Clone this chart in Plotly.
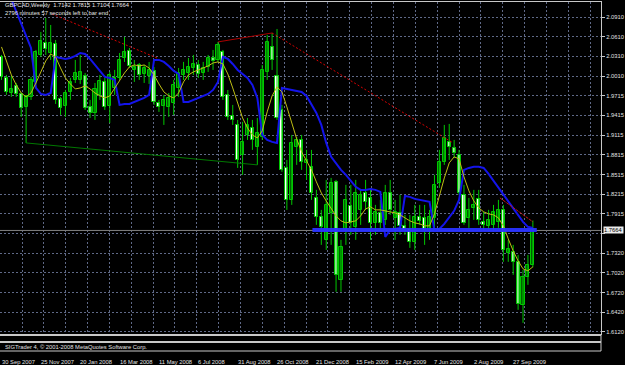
import plotly.graph_objects as go

# ---------------- data (weekly GBPCAD, bar index 0 = week of 30 Sep 2007) ----------------
opens = [2.0303,1.9983,1.9755,1.9862,1.9740,1.9543,1.9695,1.9923,2.0333,2.0515,
         2.0363,2.0500,1.9664,1.9558,1.9771,1.9953,1.9953,2.0014,1.9543,1.9451,
         1.9725,1.9923,1.9558,1.9831,1.9983,2.0287,2.0394,2.0105,2.0181,2.0044,
         2.0014,2.0090,1.9603,1.9558,1.9543,1.9603,1.9831,2.0029,2.0059,2.0135,
         2.0181,2.0059,2.0151,2.0287,2.0257,2.0379,1.9725,1.9406,1.9269,1.8813,
         1.9117,1.9223,1.8935,1.9087,2.0075,2.0455,2.0014,1.9497,1.8615,1.8129,
         1.8935,1.9041,1.8693,1.8631,1.8159,1.7871,1.7521,1.7931,1.8403,1.6913,
         1.7673,1.8038,1.7719,1.7977,1.8235,1.8159,1.7779,1.7931,1.7825,1.8235,
         1.7855,1.7931,1.7734,1.7688,1.7491,1.7871,1.7855,1.7642,1.7855,1.8387,
         1.8707,1.9011,1.8919,1.8813,1.8205,1.7855,1.8007,1.8144,1.7795,1.7734,
         1.7749,1.7795,1.7977,1.7323,1.7339,1.7187,1.6533,1.6959,1.7142]
highs = [2.0333,2.0029,2.0014,1.9907,1.9755,1.9710,1.9999,2.0409,2.0683,2.0895,
         2.0789,2.0561,1.9695,1.9801,1.9983,2.0257,2.0333,2.0059,1.9649,1.9907,
         2.0029,1.9983,2.0075,2.0105,2.0363,2.0607,2.0439,2.0257,2.0211,2.0181,
         2.0227,2.0151,1.9649,1.9725,1.9755,1.9953,2.0135,2.0227,2.0287,2.0333,
         2.0257,2.0227,2.0333,2.0409,2.0531,2.0409,1.9801,1.9573,1.9345,1.9315,
         1.9375,1.9345,1.9375,2.0181,2.0637,2.0667,2.0728,1.9573,1.8737,1.9117,
         1.9087,1.9117,1.8889,1.8889,1.8281,1.7977,1.8433,1.8463,1.8433,1.7521,
         1.8357,1.8357,1.8433,1.8281,1.8433,1.8281,1.8053,1.8129,1.8357,1.8433,
         1.8129,1.8205,1.7901,1.7901,1.8053,1.8053,1.8053,1.7977,1.8509,1.8889,
         1.9269,1.9284,1.9041,1.8889,1.8357,1.8159,1.8281,1.8281,1.7947,1.7977,
         1.8053,1.8129,1.8053,1.7521,1.7445,1.7293,1.7065,1.7293,1.7815]
lows = [1.9953,1.9725,1.9695,1.9695,1.9391,1.8995,1.9649,1.9892,2.0303,2.0333,
        2.0257,1.9588,1.9421,1.9391,1.9649,1.9907,1.9892,1.9497,1.9375,1.9345,
        1.9649,1.9497,1.9299,1.9725,1.9953,2.0227,2.0135,1.9923,1.9953,1.9907,
        1.9892,1.9573,1.9467,1.9269,1.9391,1.9421,1.9695,1.9953,1.9953,2.0029,
        1.9983,1.9953,2.0075,2.0105,2.0227,1.9649,1.9345,1.9269,1.8615,1.8509,
        1.9041,1.8889,1.8661,1.9041,1.9953,2.0105,1.9345,1.8555,1.7977,1.8053,
        1.8661,1.8585,1.8433,1.8129,1.7749,1.7445,1.7369,1.7445,1.6731,1.6731,
        1.7445,1.7597,1.7521,1.7749,1.7977,1.7521,1.7597,1.7673,1.7749,1.7901,
        1.7521,1.7597,1.7597,1.7399,1.7369,1.7749,1.7445,1.7521,1.7642,1.8311,
        1.8661,1.8737,1.8767,1.8205,1.7749,1.7703,1.7825,1.7749,1.7673,1.7642,
        1.7642,1.7703,1.7187,1.7187,1.6989,1.6457,1.6259,1.6837,1.7104]
closes = [1.9999,1.9771,1.9816,1.9740,1.9527,1.9710,1.9953,2.0379,2.0546,2.0424,
          2.0515,1.9649,1.9527,1.9755,1.9923,2.0059,2.0075,1.9527,1.9451,1.9816,
          1.9938,1.9543,2.0029,1.9983,2.0257,2.0379,2.0166,2.0151,2.0029,2.0135,
          2.0105,1.9619,1.9543,1.9649,1.9679,1.9877,2.0059,2.0105,2.0151,2.0196,
          2.0044,2.0135,2.0287,2.0242,2.0485,1.9695,1.9391,1.9345,1.8737,1.9011,
          1.9269,1.9041,1.9147,2.0105,2.0531,2.0257,1.9375,1.8585,1.8129,1.8995,
          1.9041,1.8707,1.8737,1.8235,1.7871,1.7719,1.8053,1.8387,1.6989,1.7415,
          1.8129,1.7779,1.8235,1.8205,1.8099,1.7779,1.7947,1.7779,1.8235,1.7977,
          1.7947,1.7734,1.7673,1.7491,1.7871,1.7810,1.7642,1.7871,1.8357,1.8707,
          1.9071,1.8935,1.8843,1.8235,1.7779,1.7977,1.8053,1.7825,1.7749,1.7825,
          1.7947,1.7977,1.7369,1.7384,1.7187,1.6549,1.6959,1.7141,1.7664]

# yellow moving-average line, one value per bar
ma_values = [2.0455,2.0227,2.0029,1.9877,1.9755,1.9695,1.9755,1.9907,2.0075,2.0242,
             2.0348,2.0303,2.0135,1.9983,1.9892,1.9816,1.9831,1.9862,1.9816,1.9755,
             1.9710,1.9679,1.9710,1.9831,1.9953,2.0059,2.0151,2.0181,2.0166,2.0181,
             2.0135,2.0029,1.9892,1.9771,1.9710,1.9679,1.9755,1.9923,2.0029,2.0075,
             2.0105,2.0135,2.0166,2.0211,2.0227,2.0196,2.0044,1.9831,1.9588,1.9375,
             1.9223,1.9117,1.9071,1.9178,1.9467,1.9710,1.9847,1.9771,1.9543,1.9284,
             1.9056,1.8859,1.8722,1.8585,1.8403,1.8235,1.8113,1.7992,1.7886,1.7810,
             1.7779,1.7795,1.7810,1.7886,1.7992,1.8023,1.7977,1.7977,1.7962,1.7947,
             1.7931,1.7901,1.7855,1.7810,1.7779,1.7764,1.7734,1.7734,1.7916,1.8190,
             1.8463,1.8691,1.8783,1.8753,1.8479,1.8266,1.8113,1.8007,1.7947,1.7916,
             1.7901,1.7855,1.7734,1.7537,1.7354,1.7202,1.7081,1.7050,1.7111]

# blue stepped band line, one value per bar
band_values = [2.1549,2.1367,2.1184,2.1002,2.0804,2.0622,2.0439,1.9831,1.9740,1.9725,
               1.9755,2.0303,2.0287,2.0272,2.0287,2.0318,2.0363,2.0348,2.0272,2.0181,
               2.0075,1.9999,1.9983,1.9953,1.9573,1.9588,1.9588,1.9619,1.9649,1.9679,
               1.9725,2.0257,2.0257,2.0227,2.0166,2.0090,2.0044,1.9619,1.9619,1.9649,
               1.9679,1.9710,1.9740,1.9801,1.9923,2.0303,2.0272,2.0196,2.0105,2.0044,
               1.9983,1.9877,1.9679,1.9117,1.9041,1.9011,1.8995,1.9831,1.9816,1.9801,
               1.9786,1.9771,1.9710,1.9588,1.9451,1.9269,1.8995,1.8783,1.8677,1.8585,
               1.8509,1.8418,1.8327,1.8281,1.8281,1.8296,1.8281,1.8251,1.7567,1.7673,
               1.7688,1.7703,1.8189,1.8175,1.8144,1.8129,1.8114,1.8099,1.7657,1.7688,
               1.7764,1.7855,1.7962,1.8129,1.8585,1.8615,1.8631,1.8631,1.8615,1.8524,
               1.8418,1.8311,1.8220,1.8114,1.8007,1.7886,1.7795,1.7719,1.7703]

# hand-drawn objects: (bar, price) endpoints
red_dot1 = [(10.26, 2.0956), (31.6, 2.0287)]
red_solid = [(44.0, 2.0531), (55.0, 2.0667)]
red_dot2 = [(55.0, 2.0667), (91.8, 1.8995)]
red_dot3 = [(101.3, 1.8159), (108.0, 1.7795)]
green_line = [(5.0, 1.8995), (52.0, 1.8661)]
blue_level = [(63.2, 1.7670), (108.8, 1.7670)]
bid_price = 1.7664

price_ticks = [2.0910, 2.0610, 2.0310, 2.0010, 1.9715, 1.9415, 1.9115, 1.8815, 1.8515,
               1.8215, 1.7915, 1.7620, 1.7320, 1.7020, 1.6720, 1.6420, 1.6120]
price_text = ["2.0910", "2.0610", "2.0310", "2.0010", "1.9715", "1.9415", "1.9115", "1.8815",
              "1.8515", "1.8215", "1.7915", "", "1.7320", "1.7020", "1.6720", "1.6420", "1.6120"]
date_bars = [0, 8, 16, 24, 32, 40, 48, 56, 64, 72, 80, 88, 96, 104]
date_text = ["30 Sep 2007", "25 Nov 2007", "20 Jan 2008", "16 Mar 2008", "11 May 2008",
             "6 Jul 2008", "31 Aug 2008", "26 Oct 2008", "21 Dec 2008", "15 Feb 2009",
             "12 Apr 2009", "7 Jun 2009", "2 Aug 2009", "27 Sep 2009"]
title_line1 = "GBPCAD,Weekly  1.7142 1.7815 1.7104 1.7664"
title_line2 = "2796 minutes 57 seconds left to bar end"
footer = "SIGTrader 4, © 2001-2008 MetaQuotes Software Corp."

# ---------------- figure ----------------
W, H = 625, 365
PX_LEFT, PX_RIGHT, PX_TOP, PX_BOT = 0, 601, 2, 334
BAR0, BARW = 1.5, 4.92
PPU, P_REF, Y_REF = 657.6, 2.0910, 17
FONT = "Liberation Sans"
FS = 5.8

xr = [(PX_LEFT - BAR0) / BARW, (PX_RIGHT - BAR0) / BARW]
yr = [P_REF - (PX_BOT - Y_REF) / PPU, P_REF + (Y_REF - PX_TOP) / PPU]

n = len(opens)
idx = list(range(n))
fig = go.Figure()

# wicks
wx, wy = [], []
for i in idx:
    wx += [i, i, None]
    wy += [lows[i], highs[i], None]
fig.add_trace(go.Scatter(x=wx, y=wy, mode="lines", line=dict(color="rgb(0,200,0)", width=1),
                         hoverinfo="skip", showlegend=False))

# bodies
for up in (True, False):
    sel = [i for i in idx if (closes[i] >= opens[i]) == up]
    base = [min(opens[i], closes[i]) for i in sel]
    hgt = [max(abs(closes[i] - opens[i]), 0.0008) for i in sel]
    fig.add_trace(go.Bar(x=sel, y=hgt, base=base, width=0.62,
                         marker=dict(color="rgb(0,95,0)" if up else "white",
                                     line=dict(color="rgb(0,200,0)", width=1)),
                         hoverinfo="skip", showlegend=False))

# bid line
fig.add_trace(go.Scatter(x=xr, y=[bid_price, bid_price], mode="lines",
                         line=dict(color="rgb(128,128,128)", width=1),
                         hoverinfo="skip", showlegend=False))

# indicators
fig.add_trace(go.Scatter(x=idx, y=band_values, mode="lines",
                         line=dict(color="rgb(20,20,235)", width=2),
                         hoverinfo="skip", showlegend=False))
fig.add_trace(go.Scatter(x=idx, y=ma_values, mode="lines",
                         line=dict(color="rgb(190,190,20)", width=1),
                         hoverinfo="skip", showlegend=False))

def seg(pts, color, width, dash="solid"):
    fig.add_trace(go.Scatter(x=[p[0] for p in pts], y=[p[1] for p in pts], mode="lines",
                             line=dict(color=color, width=width, dash=dash),
                             hoverinfo="skip", showlegend=False))

seg(blue_level, "rgba(40,50,255,0.95)", 4)
seg(red_dot1, "rgb(215,0,0)", 1, "2px,2px")
seg(red_solid, "rgb(170,0,0)", 1)
seg(red_dot2, "rgb(215,0,0)", 1, "2px,2px")
seg(red_dot3, "rgb(200,20,20)", 1, "3px,1px")
seg(green_line, "rgb(0,120,0)", 1)

grid_col = "rgb(95,105,135)"
fig.update_layout(
    width=W, height=H, margin=dict(l=0, r=0, t=0, b=0),
    paper_bgcolor="black", plot_bgcolor="black",
    barmode="overlay", bargap=0, showlegend=False,
    xaxis=dict(domain=[PX_LEFT / W, PX_RIGHT / W], range=xr, showticklabels=False,
               showgrid=True, gridcolor=grid_col, griddash="2px,2px", gridwidth=1,
               tick0=(22 - BAR0) / BARW, dtick=21.85 / BARW, zeroline=False,
               showline=True, linecolor="rgb(200,200,200)", linewidth=1, mirror=True,
               ticks=""),
    yaxis=dict(domain=[1 - PX_BOT / H, 1 - PX_TOP / H], range=yr, side="right",
               tickvals=price_ticks, ticktext=price_text, showgrid=True,
               gridcolor=grid_col, griddash="2px,2px", gridwidth=1, zeroline=False,
               showline=True, linecolor="rgb(200,200,200)", linewidth=1, mirror=True,
               ticks="outside", ticklen=3, tickcolor="rgb(200,200,200)",
               tickfont=dict(family=FONT, size=FS, color="rgb(225,225,225)")),
)

ann = []
for b, t in zip(date_bars, date_text):
    ann.append(dict(x=b, y=1 - 361.5 / H, xref="x", yref="paper", text=t, showarrow=False,
                    xanchor="left", yanchor="middle", xshift=-2,
                    font=dict(family=FONT, size=FS, color="rgb(225,225,225)")))
ann.append(dict(x=3 / W, y=1 - 5.5 / H, xref="paper", yref="paper", text=title_line1,
                showarrow=False, xanchor="left", yanchor="middle",
                font=dict(family=FONT, size=FS, color="rgb(230,230,230)")))
ann.append(dict(x=3 / W, y=1 - 13 / H, xref="paper", yref="paper", text=title_line2,
                showarrow=False, xanchor="left", yanchor="middle",
                font=dict(family=FONT, size=FS, color="rgb(230,230,230)")))
ann.append(dict(x=3 / W, y=1 - 347 / H, xref="paper", yref="paper", text=footer,
                showarrow=False, xanchor="left", yanchor="middle",
                font=dict(family=FONT, size=FS, color="rgb(225,225,225)")))
ann.append(dict(x=603 / W, y=bid_price, xref="paper", yref="y", text="1.7664",
                showarrow=False, xanchor="left", yanchor="middle", bgcolor="rgb(235,235,235)",
                borderpad=0, font=dict(family=FONT, size=FS, color="black")))
fig.update_layout(annotations=ann)

# sub-window separators below the main chart
shapes = []
for yy, wdt in [(335, 2), (342, 2), (351, 1)]:
    shapes.append(dict(type="line", xref="paper", yref="paper", x0=0, x1=PX_RIGHT / W,
                       y0=1 - yy / H, y1=1 - yy / H, line=dict(color="rgb(200,200,200)", width=wdt)))
shapes.append(dict(type="line", xref="paper", yref="paper", x0=PX_RIGHT / W, x1=PX_RIGHT / W,
                   y0=1 - 351 / H, y1=1 - 334 / H, line=dict(color="rgb(200,200,200)", width=1)))
fig.update_layout(shapes=shapes)

fig.write_html("out.html")
